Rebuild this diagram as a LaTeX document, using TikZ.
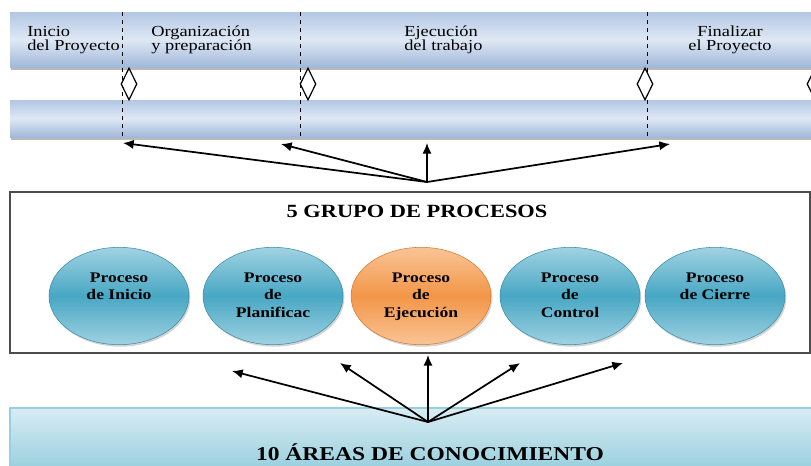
\documentclass[tikz,border=0pt]{standalone}
\usepackage{fontspec}
\setmainfont{Liberation Serif}[FakeStretch=1.2]
\usetikzlibrary{shapes.geometric,arrows.meta,shadows}

\definecolor{barmid}{RGB}{223,232,244}
\definecolor{bartop}{RGB}{178,199,228}
\definecolor{barbot}{RGB}{160,184,218}
\definecolor{bluetop}{RGB}{160,210,226}
\definecolor{bluemid}{RGB}{72,167,196}
\definecolor{blueline}{RGB}{55,140,170}
\definecolor{orangetop}{RGB}{249,196,150}
\definecolor{orangemid}{RGB}{243,150,72}
\definecolor{orangeline}{RGB}{215,120,45}
\definecolor{areatop}{RGB}{216,236,243}
\definecolor{areabot}{RGB}{152,207,222}

\begin{document}
\begin{tikzpicture}[x=0.75pt,y=-0.75pt]
      \tikzstyle{fase} = [inner sep=0pt, anchor=north west, align=left, font=\fontsize{11.5}{10.5}\selectfont]
      \tikzstyle{hito} = [diamond, draw=black, fill=white, line width=0.9pt, inner sep=0pt, aspect=0.5, minimum width=12pt, minimum height=24pt]
      \tikzstyle{proceso} = [ellipse, minimum width=105pt, minimum height=73pt, draw=blueline, line width=0.4pt, top color=bluetop, bottom color=bluetop, middle color=bluemid, drop shadow={opacity=0.35, shadow xshift=1pt, shadow yshift=-1.5pt}]
      \tikzstyle{rotulo} = [inner sep=0pt, anchor=north, align=center, font=\fontsize{11}{13}\selectfont\bfseries, yshift=17.6pt]
      \tikzstyle{flecha} = [line width=1.3pt, -{Latex[length=8pt,width=7pt]}]

      \useasboundingbox (0,0) rectangle (811,465);

      % barras de fases
      \fill[gray!55] (11,15) rectangle (813,70);
      \shade[top color=bartop, bottom color=barbot, middle color=barmid] (10,12) rectangle (813,67);
      \fill[gray!55] (11,103) rectangle (813,140);
      \shade[top color=bartop, bottom color=barbot, middle color=barmid] (10,100) rectangle (813,137);
      \draw[dashed, line width=0.6pt] (122,12) -- (122,137);
      \draw[dashed, line width=0.6pt] (300,12) -- (300,137);
      \draw[dashed, line width=0.6pt] (647,12) -- (647,137);

      \node (inicio) [fase] at (27,26) {Inicio\\del Proyecto};
      \node (organiza) [fase] at (151,26) {Organización\\y preparación};
      \node (ejecuta) [fase] at (404,26) {Ejecución\\del trabajo};
      \node (finaliza) [fase, anchor=north, align=center] at (730,26) {Finalizar\\el Proyecto};

      \node (hito1) [hito] at (129,84) {};
      \node (hito2) [hito] at (308,84) {};
      \node (hito3) [hito] at (645,84) {};
      \node (hito4) [hito] at (815,84) {};

      % grupos de procesos
      \draw[gray!60!black, line width=1pt] (10,192) rectangle (810,353);
      \node (grupos) [font=\fontsize{14}{16}\selectfont\bfseries, anchor=base] at (417,217) {5 GRUPO DE PROCESOS};

      \node (pinicio) [proceso] at (119,296) {};
      \node (pplan) [proceso] at (273,296) {};
      \node (pejec) [proceso, draw=orangeline, top color=orangetop, bottom color=orangetop, middle color=orangemid] at (421,296) {};
      \node (pcontrol) [proceso] at (570,296) {};
      \node (pcierre) [proceso] at (715,296) {};

      \node [rotulo] at (pinicio.center) {Proceso\\de Inicio};
      \node [rotulo] at (pplan.center) {Proceso\\de\\Planificac};
      \node [rotulo] at (pejec.center) {Proceso\\de\\Ejecución};
      \node [rotulo] at (pcontrol.center) {Proceso\\de\\Control};
      \node [rotulo] at (pcierre.center) {Proceso\\de Cierre};

      % areas de conocimiento
      \shade[top color=areatop, bottom color=areabot] (10,408) rectangle (813,470);
      \draw[areabot, line width=0.8pt] (10,470) -- (10,408) -- (813,408);
      \node (areas) [font=\fontsize{14.7}{16}\selectfont\bfseries, anchor=base] at (430,460) {10 ÁREAS DE CONOCIMIENTO};

      % flechas
      \coordinate (arriba) at (427,182);
      \coordinate (a1) at (123,143);
      \coordinate (a2) at (281,144);
      \coordinate (a3) at (427,143);
      \coordinate (a4) at (670,144);
      \draw [flecha] (arriba) -- (a1);
      \draw [flecha] (arriba) -- (a2);
      \draw [flecha] (arriba) -- (a3);
      \draw [flecha] (arriba) -- (a4);

      \coordinate (abajo) at (428,422);
      \coordinate (b1) at (232,371);
      \coordinate (b2) at (340,363);
      \coordinate (b3) at (428,355);
      \coordinate (b4) at (520,363);
      \coordinate (b5) at (623,363);
      \draw [flecha] (abajo) -- (b1);
      \draw [flecha] (abajo) -- (b2);
      \draw [flecha] (abajo) -- (b3);
      \draw [flecha] (abajo) -- (b4);
      \draw [flecha] (abajo) -- (b5);
\end{tikzpicture}
\end{document}
